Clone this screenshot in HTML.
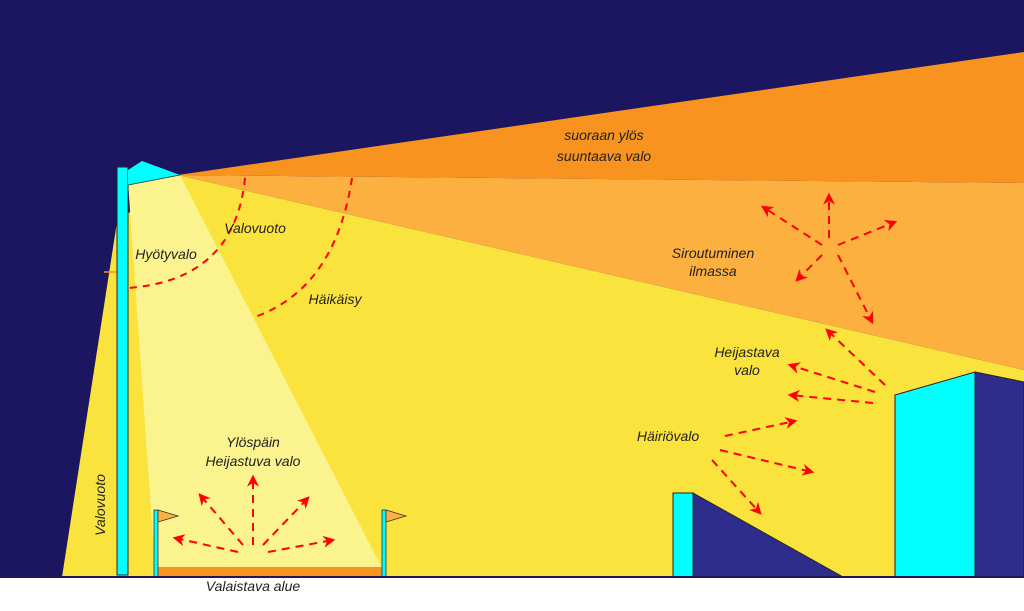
<!DOCTYPE html>
<html><head><style>html,body{margin:0;padding:0;background:#fff}svg{display:block}
text{font-family:"Liberation Sans",sans-serif;font-style:italic;font-size:14px;fill:#222}</style></head>
<body>
<svg width="1024" height="611" viewBox="0 0 1024 611">
<defs><marker id="a" viewBox="0 0 10 10" refX="8" refY="5" markerWidth="6" markerHeight="6" orient="auto"><path d="M0,0 L10,5 L0,10 L3,5z" fill="#f00"/></marker></defs>
<rect x="0" y="0" width="1024" height="577" fill="#1c1660"/>
<polygon points="178,175 1024,370 1024,577 62,577 117,222" fill="#fae33c"/>
<polygon points="178,175 1024,183 1024,370" fill="#fbb040"/>
<polygon points="178,175 1024,52 1024,183" fill="#f7931e"/>
<line x1="104" y1="272" x2="128" y2="272" stroke="#f7931e" stroke-width="1.5"/>
<polygon points="128,182 180,175 382,568 155,568" fill="#faf38e"/>
<rect x="158" y="567" width="224" height="10" fill="#f7931e"/>
<rect x="117" y="167" width="11" height="408" fill="#00ffff" stroke="#222" stroke-width="1"/>
<polygon points="128,170 142,161 180,175 128,185" fill="#00ffff"/>
<line x1="128" y1="185" x2="180" y2="175" stroke="#222" stroke-width="0.8"/>
<rect x="154" y="510" width="4" height="67" fill="#00ffff" stroke="#333" stroke-width="0.8"/>
<polygon points="158,510 178,516 158,522" fill="#fbb040" stroke="#333" stroke-width="0.8"/>
<rect x="382" y="510" width="4" height="67" fill="#00ffff" stroke="#333" stroke-width="0.8"/>
<polygon points="386,510 406,516 386,522" fill="#fbb040" stroke="#333" stroke-width="0.8"/>
<rect x="673" y="493" width="20" height="84" fill="#00ffff" stroke="#222" stroke-width="1"/>
<polygon points="693,493 843,577 693,577" fill="#2e2d8c" stroke="#222" stroke-width="1"/>
<polygon points="895,395 975,372 975,577 895,577" fill="#00ffff" stroke="#222" stroke-width="1"/>
<polygon points="975,372 1024,382 1024,577 975,577" fill="#2e2d8c" stroke="#222" stroke-width="1"/>
<rect x="0" y="576" width="1024" height="2" fill="#1c1660"/>
<g fill="none" stroke="#f00" stroke-width="2" stroke-dasharray="7,6">
<path d="M245,178 Q235,280 128,288"/>
<path d="M352,178 Q335,290 252,318"/>
</g>
<g stroke="#f00" stroke-width="2" stroke-dasharray="8,6" marker-end="url(#a)">
<line x1="238" y1="552" x2="175" y2="538"/>
<line x1="243" y1="545" x2="200" y2="495"/>
<line x1="253" y1="545" x2="253" y2="477"/>
<line x1="263" y1="545" x2="308" y2="498"/>
<line x1="268" y1="552" x2="333" y2="540"/>
<line x1="822" y1="245" x2="763" y2="207"/>
<line x1="829" y1="238" x2="829" y2="195"/>
<line x1="838" y1="245" x2="895" y2="222"/>
<line x1="822" y1="255" x2="797" y2="280"/>
<line x1="838" y1="255" x2="872" y2="322"/>
<line x1="885" y1="385" x2="827" y2="330"/>
<line x1="875" y1="392" x2="790" y2="365"/>
<line x1="873" y1="403" x2="790" y2="395"/>
<line x1="725" y1="436" x2="795" y2="421"/>
<line x1="720" y1="450" x2="812" y2="472"/>
<line x1="712" y1="460" x2="760" y2="513"/>
</g>
<text x="604" y="140" text-anchor="middle">suoraan ylös</text>
<text x="604" y="161" text-anchor="middle">suuntaava valo</text>
<text x="255" y="233" text-anchor="middle">Valovuoto</text>
<text x="166" y="259" text-anchor="middle">Hyötyvalo</text>
<text x="335" y="304" text-anchor="middle">Häikäisy</text>
<text x="713" y="258" text-anchor="middle">Siroutuminen</text>
<text x="713" y="276" text-anchor="middle">ilmassa</text>
<text x="747" y="357" text-anchor="middle">Heijastava</text>
<text x="747" y="375" text-anchor="middle">valo</text>
<text x="668" y="441" text-anchor="middle">Häiriövalo</text>
<text x="253" y="447" text-anchor="middle">Ylöspäin</text>
<text x="253" y="466" text-anchor="middle">Heijastuva valo</text>
<text x="0" y="0" text-anchor="middle" transform="translate(105,505) rotate(-90)">Valovuoto</text>
<text x="253" y="591" text-anchor="middle">Valaistava alue</text>
</svg>
</body></html>
